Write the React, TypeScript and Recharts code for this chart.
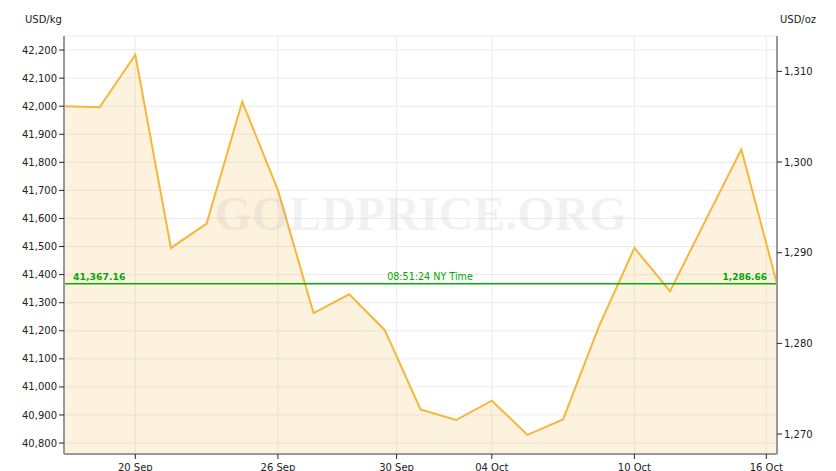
import React from 'react';
import {
  ComposedChart,
  Area,
  XAxis,
  YAxis,
  CartesianGrid,
  ReferenceLine,
  ReferenceDot
} from 'recharts';

// gold price, USD/kg, one point per trading day
const kgPrices = [
  42000, 41996, 42183, 41495, 41582, 42016, 41701, 41263, 41330, 41202,
  40920, 40882, 40951, 40829, 40884, 41214, 41495, 41341, 41594, 41846, 41367.16
];
const dayIndex = kgPrices.map((_, i) => i);

const xTickPos = [2, 6, 9.33, 12, 16, 19.7];
const xTickLabels = ['20 Sep', '26 Sep', '30 Sep', '04 Oct', '10 Oct', '16 Oct'];

const kgTicks = [40800, 40900, 41000, 41100, 41200, 41300, 41400, 41500, 41600, 41700, 41800, 41900, 42000, 42100, 42200];
const ozTicks = [1270, 1280, 1290, 1300, 1310];

const kgDomain = [40761, 42250];
const ozDomain = [1267.8, 1313.9];

const lastKg = 41367.16;
const lastKgLabel = '41,367.16';
const lastOzLabel = '1,286.66';
const timeLabel = '08:51:24 NY Time';
const watermark = 'GOLDPRICE.ORG';

const data = dayIndex.map((i) => ({ i, kg: kgPrices[i] }));

const FONT = 'DejaVu Sans, Verdana, sans-serif';
const GREEN = '#00a900';

const fmt = (v: number) => v.toLocaleString('en-US');

const PriceLabels = (props: any) => {
  const { viewBox } = props;
  if (!viewBox) return null;
  const { x, y, width } = viewBox;
  return (
    <g fontFamily={FONT} fill={GREEN}>
      <text x={x + 9} y={y - 4} fontSize={9.3} fontWeight="bold">{lastKgLabel}</text>
      <text x={x + 366} y={y - 4} fontSize={9.6} textAnchor="middle">{timeLabel}</text>
      <text x={x + width - 10} y={y - 4} fontSize={9} fontWeight="bold" textAnchor="end">{lastOzLabel}</text>
    </g>
  );
};

const Watermark = (props: any) => {
  const { cx, cy } = props;
  if (cx == null || cy == null) return null;
  return (
    <text
      x={cx}
      y={cy + 16}
      textAnchor="middle"
      fontFamily="Liberation Serif, serif"
      fontWeight="bold"
      fontSize={48}
      fill="#aaaaaa"
      fillOpacity={0.16}
    >
      {watermark}
    </text>
  );
};

const UnitLabel = (props: any) => {
  const { viewBox, text, dx } = props;
  if (!viewBox) return null;
  return (
    <text x={viewBox.x + dx} y={23} fontFamily={FONT} fontSize={10} fill="#222">{text}</text>
  );
};

export default function App() {
  const tickStyle = { fontSize: 10, fill: '#222', fontFamily: FONT };
  return (
    <div style={{ position: 'absolute', left: 0, top: 0, width: 836, height: 471, background: '#fff', fontFamily: FONT }}>
      <ComposedChart width={836} height={471} data={data} margin={{ top: 36, right: 0, bottom: 0, left: 0 }}>
        <CartesianGrid yAxisId="left" stroke="#ebebeb" strokeWidth={1} />
        <XAxis
          dataKey="i"
          type="number"
          domain={[0, 20]}
          ticks={xTickPos}
          interval={0}
          height={17}
          tickFormatter={(v: number) => xTickLabels[xTickPos.indexOf(v)] ?? ''}
          tick={tickStyle}
          tickSize={5}
          tickMargin={5}
          axisLine={{ stroke: '#999', strokeWidth: 2 }}
          tickLine={{ stroke: '#222' }}
        />
        <YAxis
          yAxisId="left"
          orientation="left"
          width={64}
          domain={kgDomain}
          allowDataOverflow
          ticks={kgTicks}
          interval={0}
          tickFormatter={fmt}
          tick={tickStyle}
          tickSize={5}
          tickMargin={2}
          axisLine={{ stroke: '#999', strokeWidth: 2 }}
          tickLine={{ stroke: '#222' }}
          label={<UnitLabel text="USD/kg" dx={25} />}
        />
        <YAxis
          yAxisId="right"
          orientation="right"
          width={59}
          domain={ozDomain}
          allowDataOverflow
          ticks={ozTicks}
          interval={0}
          tickFormatter={fmt}
          tick={tickStyle}
          tickSize={5}
          tickMargin={2}
          axisLine={{ stroke: '#999', strokeWidth: 2 }}
          tickLine={{ stroke: '#222' }}
          label={<UnitLabel text="USD/oz" dx={3} />}
        />
        <Area
          yAxisId="left"
          type="linear"
          dataKey="kg"
          stroke="#f5b73b"
          strokeWidth={2}
          fill="#f5b840"
          fillOpacity={0.18}
          dot={false}
          activeDot={false}
          isAnimationActive={false}
        />
        <ReferenceDot yAxisId="left" x={10} y={41616} shape={(p: any) => <Watermark {...p} />} />
        <ReferenceLine
          yAxisId="left"
          y={lastKg}
          stroke="#00b400"
          strokeWidth={1.5}
          label={<PriceLabels />}
        />
      </ComposedChart>
    </div>
  );
}
